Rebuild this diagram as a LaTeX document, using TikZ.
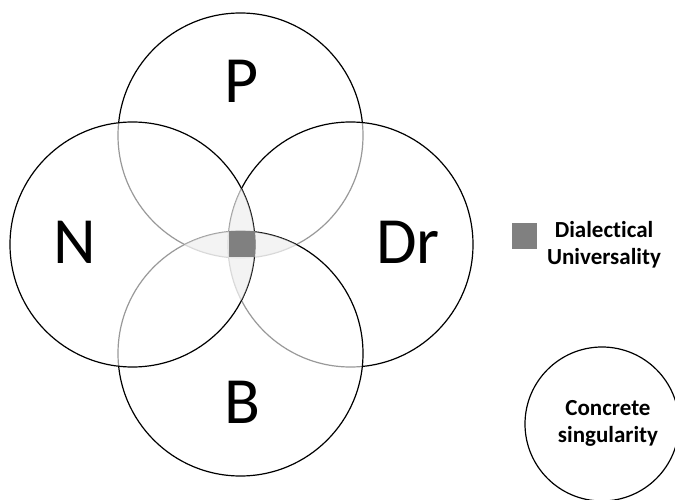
\documentclass[tikz,border=0pt]{standalone}
\usepackage{fontspec}
\setmainfont{Carlito}[Ligatures=CommonOff]
\definecolor{coregray}{HTML}{808080}
\definecolor{lensgray}{HTML}{E6E6E6}
\begin{document}
\begin{tikzpicture}[x=1bp,y=-1bp,
  ring/.style={circle, draw=black, line width=1.2bp, fill=white, fill opacity=0.6,
               minimum size=245bp, inner sep=0},
  lens/.style={fill=lensgray, fill opacity=0.45},
  big/.style={font=\fontsize{66bp}{66bp}\selectfont, anchor=base, inner sep=0},
  legendtext/.style={font=\bfseries\fontsize{23bp}{27bp}\selectfont, align=center, inner sep=0},
  swatch/.style={fill=coregray, draw=none, minimum size=25.5bp, inner sep=0},
]
\useasboundingbox (0,0) rectangle (675,500);
\def\R{122.5}

% four overlapping circles, later ones veil the outlines beneath
\node[ring] (P)  at (240.5,135.5) {};
\node[ring] (Dr) at (350.5,244.5) {};
\node[ring] (B)  at (240.5,353.5) {};
\node[ring] (N)  at (132.5,244.5) {};

% faint shading of the two central lenses
\begin{scope}
  \clip (N.center) circle[radius=\R];
  \fill[lens] (Dr.center) circle[radius=\R];
\end{scope}
\begin{scope}
  \clip (P.center) circle[radius=\R];
  \fill[lens] (B.center) circle[radius=\R];
\end{scope}

% common core
\node[swatch, minimum size=26bp] (core) at (242,244) {};

% circle labels
\node[big] (lP)  at (241.5,103) {P};
\node[big] (lN)  at (75,264)    {N};
\node[big] (lDr) at (408,264)   {Dr};
\node[big] (lB)  at (242,423)   {B};

% legend (base anchor sits on the last line)
\node[swatch] (key) at (524.5,236) {};
\node[legendtext, anchor=base] (keytext) at (604,264.5) {Dialectical\\Universality};

\node[circle, draw=black, line width=1.2bp, minimum size=154bp, inner sep=0] (cs) at (602,424) {};
\node[legendtext, anchor=base] (cstext) at (608,442) {Concrete\\singularity};
\end{tikzpicture}
\end{document}
